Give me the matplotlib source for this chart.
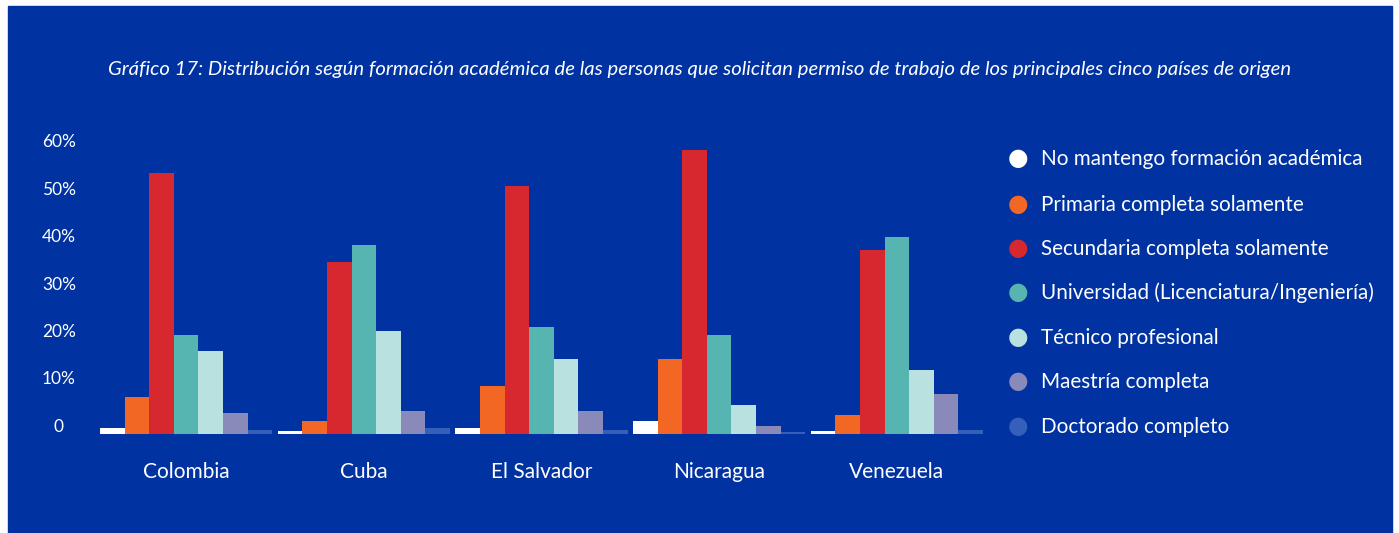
import numpy as np
import matplotlib.pyplot as plt
from matplotlib.patches import Rectangle

paises = ["Colombia", "Cuba", "El Salvador", "Nicaragua", "Venezuela"]
categorias = ["No mantengo formación académica",
              "Primaria completa solamente",
              "Secundaria completa solamente",
              "Universidad (Licenciatura/Ingeniería)",
              "Técnico profesional",
              "Maestría completa",
              "Doctorado completo"]

# porcentajes por categoría, en el orden de paises
sin_formacion = [1.2, 0.5, 1.2, 2.6, 0.5]
primaria = [7.7, 2.6, 10.0, 15.7, 3.9]
secundaria = [54.8, 36.1, 52.1, 59.7, 38.6]
universidad = [20.7, 39.7, 22.4, 20.7, 41.4]
tecnico = [17.4, 21.6, 15.7, 6.0, 13.4]
maestria = [4.3, 4.7, 4.7, 1.6, 8.3]
doctorado = [0.7, 1.2, 0.7, 0.3, 0.7]

series = [sin_formacion, primaria, secundaria, universidad, tecnico, maestria, doctorado]
colores = ["#ffffff", "#f26724", "#d7282f", "#57b5b1", "#b8e1df", "#8a8aba", "#3560ba"]
yticks = [0, 10, 20, 30, 40, 50, 60]
ytick_labels = ["0", "10%", "20%", "30%", "40%", "50%", "60%"]

azul = "#0033a1"
W, H = 1399, 533
fig = plt.figure(figsize=(W / 100, H / 100), dpi=100)
fig.patch.set_facecolor("white")
fig.patches.append(Rectangle((8 / W, 0), (1392 - 8) / W, (H - 6) / H,
                             transform=fig.transFigure, color=azul, zorder=-10))

plt.rcParams["font.family"] = ["Lato", "DejaVu Sans"]

paso = 7.22
x0 = np.arange(len(paises)) * paso
# axes en pixeles: x 100..983, y 140..433.5
ax = fig.add_axes([100 / W, (H - 433.5) / H, (983 - 100) / W, (433.5 - 140) / H])
ax.set_facecolor("none")
for j, (vals, c) in enumerate(zip(series, colores)):
    ax.bar(x0 + j, vals, width=1.0, color=c, align="center", linewidth=0)

ax.set_xlim(-0.5, x0[-1] + 6.5)
ax.set_ylim(0, (433.5 - 140) / 4.75)
for s in ax.spines.values():
    s.set_visible(False)
ax.set_xticks([])
ax.set_yticks([])

# etiquetas del eje y, centradas
for v, lab in zip(yticks, ytick_labels):
    ax.annotate(lab, xy=(0, v), xycoords=("figure fraction", "data"),
                xytext=(59, 6.5), textcoords=("figure pixels", "offset pixels"),
                ha="center", va="center", color="white", fontsize=12.5)

for xi, p in zip(x0, paises):
    ax.text(xi + 3, -8.0, p, ha="center", va="center", color="white",
            fontsize=15)

# leyenda
ley_y = [158, 204, 248, 292, 337, 381, 426]
for yy, c, lab in zip(ley_y, colores, categorias):
    fig.text(1018 / W, 1 - yy / H, "●", color=c, fontsize=17, ha="center", va="center",
             family="DejaVu Sans")
    fig.text(1041 / W, 1 - (yy + 1) / H, lab, color="white", fontsize=14.9,
             ha="left", va="center")

fig.text(700 / W, 1 - 70 / H,
         "Gráfico 17: Distribución según formación académica de las personas que solicitan permiso de trabajo de los principales cinco países de origen",
         color="white", fontsize=14.6, style="italic",
         ha="center", va="center")

plt.savefig("out.png", dpi=100, facecolor=fig.get_facecolor())
